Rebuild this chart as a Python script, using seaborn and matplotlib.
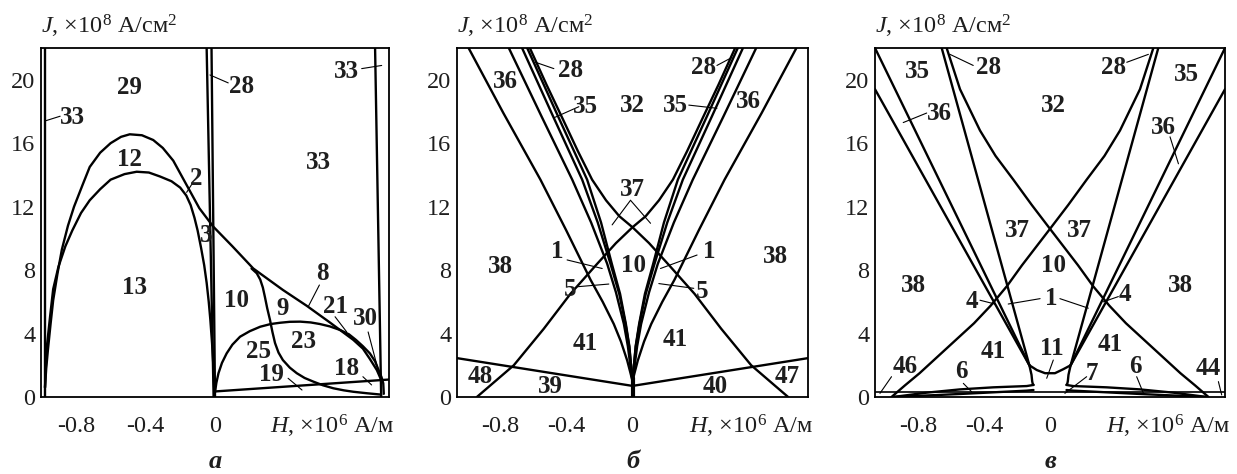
import matplotlib
matplotlib.use("Agg")
import matplotlib.pyplot as plt
import seaborn as sns

sns.set_theme(style="white")
plt.rcParams["font.family"] = ["Liberation Serif", "DejaVu Serif"]
plt.rcParams["mathtext.fontset"] = "custom"
plt.rcParams["mathtext.rm"] = "Liberation Serif"
plt.rcParams["mathtext.it"] = "Liberation Serif:italic"
plt.rcParams["mathtext.bf"] = "Liberation Serif:bold"

# ---------------- panel а : boundaries (H in 1e6 A/m, J in 1e8 A/cm^2) -------------
A33_LEFT = ([-0.977, -0.977], [22.0, 0.0])
A28_1 = ([-0.048, -0.008], [22.0, 0.0])
A28_2 = ([-0.020, 0.000], [22.0, 0.0])
A33_RIGHT = ([0.920, 0.955], [22.0, 0.0])
A_DOME_OUTER = ([-0.977, -0.97, -0.96, -0.945, -0.93, -0.905, -0.88, -0.845, -0.81, -0.76, -0.72,
                 -0.66, -0.60, -0.54, -0.49, -0.42, -0.355, -0.30, -0.24, -0.20,
                 -0.09, -0.01, 0.10, 0.22, 0.39, 0.527, 0.66, 0.795, 0.85, 0.89, 0.93, 0.958],
                [0.6, 1.8, 3.0, 4.6, 6.1, 7.8, 9.3, 10.8, 12.0, 13.4, 14.5,
                 15.4, 16.0, 16.4, 16.56, 16.5, 16.2, 15.7, 14.9, 14.1,
                 11.9, 10.74, 9.5, 8.1, 6.75, 5.75, 4.7, 3.6, 3.05, 2.4, 1.7, 1.0])
A_DOME_INNER = ([-0.977, -0.968, -0.948, -0.93, -0.90, -0.86, -0.82, -0.77, -0.72, -0.66, -0.60,
                 -0.52, -0.45, -0.38, -0.316, -0.25, -0.20, -0.165, -0.14,
                 -0.118, -0.10, -0.08, -0.062, -0.048, -0.036, -0.027, -0.017, -0.01, -0.004],
                [0.6, 3.0, 5.06, 6.8, 8.2, 9.5, 10.5, 11.6, 12.4, 13.1, 13.7,
                 14.05, 14.2, 14.15, 13.9, 13.6, 13.2, 12.7, 12.1,
                 11.3, 10.5, 9.4, 8.3, 7.2, 6.0, 4.9, 3.4, 2.1, 0.4])
A_DOME_LOW = ([0.0, 0.008, 0.02, 0.04, 0.067, 0.10, 0.144, 0.20, 0.26, 0.32, 0.374, 0.43, 0.49,
               0.55, 0.603, 0.66, 0.72, 0.77, 0.81, 0.85, 0.89, 0.92, 0.94, 0.957, 0.967, 0.97],
              [0.3, 0.9, 1.5, 2.15, 2.75, 3.3, 3.8, 4.15, 4.43, 4.6, 4.68, 4.74, 4.75,
               4.7, 4.6, 4.45, 4.22, 3.95, 3.6, 3.2, 2.75, 2.25, 1.7, 1.25, 0.86, 0.2])
A_S_CURVE = ([0.21, 0.24, 0.26, 0.275, 0.287, 0.30, 0.316, 0.33, 0.345, 0.365, 0.39, 0.43,
              0.47, 0.515, 0.565, 0.62, 0.68, 0.74, 0.795, 0.87, 0.955],
             [8.1, 7.8, 7.4, 6.9, 6.3, 5.6, 4.86, 4.1, 3.4, 2.8, 2.33, 1.85,
              1.5, 1.2, 0.97, 0.74, 0.55, 0.42, 0.33, 0.24, 0.15])
A_RAMP = ([0.0, 1.0], [0.35, 1.1])

A_LABELS = [("29", -0.49, 19.5), ("33", -0.82, 17.6), ("12", -0.49, 15.0), ("2", -0.105, 13.8),
            ("3", -0.05, 10.2), ("13", -0.46, 6.9), ("28", 0.153, 19.6), ("33", 0.594, 14.8),
            ("33", 0.757, 20.5), ("10", 0.125, 6.1), ("9", 0.39, 5.6), ("8", 0.62, 7.8),
            ("21", 0.69, 5.7), ("30", 0.862, 4.96), ("23", 0.51, 3.5), ("25", 0.25, 2.86),
            ("19", 0.326, 1.39), ("18", 0.757, 1.8)]
A_LEADERS = [((-0.977, 17.4), (-0.89, 17.7)), ((-0.029, 20.3), (0.076, 19.8)),
             ((0.843, 20.7), (0.958, 20.9)), ((-0.163, 12.9), (-0.134, 13.4)),
             ((0.60, 7.06), (0.536, 5.7)), ((0.69, 5.06), (0.757, 4.1)),
             ((0.88, 4.1), (0.948, 1.28)), ((0.42, 1.18), (0.5, 0.44)),
             ((0.85, 1.28), (0.9, 0.76))]

# ---------------- panel б : left half, the right half is its mirror image ----------
B36 = ([-0.99, -0.78, -0.556, -0.40, -0.254, -0.18, -0.113, -0.07, -0.032, -0.012, 0.0],
       [22.0, 17.9, 13.7, 10.5, 7.4, 6.0, 4.6, 3.5, 2.3, 1.5, 1.0])
B35 = ([-0.747, -0.55, -0.364, -0.25, -0.153, -0.10, -0.052, -0.028, -0.012, 0.0],
       [22.0, 17.7, 13.7, 11.0, 8.4, 6.6, 4.6, 3.2, 1.9, 1.0])
B28A = ([-0.667, -0.48, -0.304, -0.21, -0.133, -0.08, -0.042, -0.02, -0.008, 0.0],
        [22.0, 17.7, 13.7, 11.0, 8.4, 6.5, 4.6, 3.2, 1.9, 1.0])
B28B = ([-0.636, -0.45, -0.274, -0.19, -0.125, -0.075, -0.040, -0.019, -0.008, 0.0],
        [22.0, 17.7, 13.7, 11.0, 8.4, 6.5, 4.6, 3.2, 1.9, 1.0])
BX = ([-0.62, -0.52, -0.42, -0.33, -0.244, -0.16, -0.08, 0.0, 0.10, 0.213, 0.375, 0.536, 0.717, 0.94],
      [22.0, 19.7, 17.5, 15.5, 13.7, 12.4, 11.4, 10.7, 9.7, 8.4, 6.5, 4.3, 2.0, 0.0])
B_V = ([-1.06, 0.0], [2.45, 0.7])
B_STEM = ([0.0, 0.0], [0.0, 1.2])

B_LABELS = [("36", -0.767, 19.9), ("28", -0.375, 20.6), ("35", -0.284, 18.3), ("32", 0.0, 18.4),
            ("28", 0.43, 20.8), ("35", 0.26, 18.4), ("36", 0.70, 18.6), ("37", 0.0, 13.05),
            ("1", -0.455, 9.16), ("10", 0.008, 8.3), ("1", 0.461, 9.16), ("38", -0.80, 8.2),
            ("38", 0.864, 8.85), ("5", -0.375, 6.75), ("5", 0.42, 6.64), ("41", -0.284, 3.39),
            ("41", 0.26, 3.6), ("48", -0.918, 1.28), ("39", -0.495, 0.65), ("40", 0.50, 0.65),
            ("47", 0.935, 1.28)]
B_LEADERS = [((-0.586, 21.1), (-0.475, 20.7)), ((-0.475, 17.6), (-0.324, 18.3)),
             ((0.51, 20.9), (0.60, 21.4)), ((0.34, 18.4), (0.51, 18.2)),
             ((-0.395, 8.64), (-0.183, 8.1)), ((-0.334, 6.95), (-0.143, 7.12)),
             ((0.39, 8.95), (0.169, 8.1)), ((0.37, 6.85), (0.159, 7.15)),
             ((-0.123, 10.85), (-0.012, 12.4)), ((-0.012, 12.4), (0.109, 10.95))]

# ---------------- panel в : left half, the right half is its mirror image ----------
C_OUT_A = ([-1.06, -0.125], [22.0, 2.0])
C_OUT_B = ([-1.06, -0.125], [19.4, 2.0])
C_STEEP = ([-0.656, -0.125], [22.0, 2.0])
C_X = ([-0.626, -0.545, -0.424, -0.33, -0.222, -0.11, 0.0, 0.085, 0.17, 0.26, 0.36, 0.46, 0.57, 0.68, 0.79, 0.88, 0.96],
       [22.0, 19.4, 16.8, 15.2, 13.7, 12.1, 10.6, 9.45, 8.3, 7.0, 5.75, 4.65, 3.6, 2.55, 1.5, 0.72, 0.0])
C_NECK = ([-0.125, -0.112, -0.108, -0.105, -0.1], [2.0, 1.4, 1.0, 0.85, 0.76])
C_LENS_UP = ([-0.1, -0.141, -0.343, -0.545, -0.75, -0.95], [0.76, 0.69, 0.61, 0.48, 0.27, 0.0])
C_LENS_LOW = ([-0.1, -0.141, -0.545, -0.95], [0.44, 0.4, 0.19, 0.0])
C_ELEVEN_TOP = ([-0.125, -0.08, -0.03, 0.03, 0.08, 0.125], [2.0, 1.7, 1.5, 1.5, 1.75, 2.0])
C_FLOOR = ([-1.06, 1.06], [0.3, 0.3])

C_LABELS = [("35", -0.8, 20.5), ("28", -0.374, 20.8), ("32", 0.02, 18.4), ("28", 0.384, 20.8),
            ("35", 0.828, 20.3), ("36", -0.667, 17.9), ("36", 0.687, 17.0), ("37", -0.2, 10.5),
            ("37", 0.18, 10.5), ("10", 0.02, 8.3), ("38", -0.828, 7.06), ("38", 0.788, 7.06),
            ("4", -0.475, 6.0), ("1", 0.01, 6.2), ("4", 0.455, 6.43), ("41", -0.343, 2.86),
            ("41", 0.364, 3.28), ("11", 0.01, 3.07), ("7", 0.253, 1.49), ("6", -0.535, 1.6),
            ("6", 0.515, 1.91), ("46", -0.879, 1.91), ("44", 0.96, 1.8)]
C_LEADERS = [((-0.606, 21.6), (-0.465, 20.9)), ((0.465, 21.1), (0.596, 21.6)),
             ((-0.889, 17.3), (-0.747, 17.9)), ((0.727, 16.4), (0.778, 14.7)),
             ((-0.424, 6.1), (-0.333, 5.86)), ((-0.06, 6.2), (-0.253, 5.86)),
             ((0.06, 6.2), (0.232, 5.6)), ((0.414, 6.33), (0.323, 6.0)),
             ((0.02, 2.33), (-0.02, 1.18)), ((0.222, 1.28), (0.09, 0.23)),
             ((-0.525, 0.86), (-0.475, 0.33)), ((0.525, 1.28), (0.566, 0.23)),
             ((-0.96, 1.28), (-1.03, 0.23)), ((1.02, 0.97), (1.04, 0.13))]

X_TICK_LABELS = {-0.8: "-0.8", -0.4: "-0.4", 0.0: "0"}
Y_TICK_LABELS = {0: "0", 4: "4", 8: "8", 12: "12", 16: "16", 20: "20"}
PANEL_NAMES = ["а", "б", "в"]

LINE_W = 1.7
THIN_W = 0.8
INK = "#1e1e1e"


def mirror(curve):
    h, j = curve
    return ([-v for v in h], list(j))


def draw(ax, curve, lw=LINE_W):
    h, j = curve
    sns.lineplot(x=h, y=j, sort=False, estimator=None, color="black", lw=lw,
                 ax=ax, legend=False)


def annotate(ax, labels, leaders):
    for text, h, j in labels:
        ax.text(h, j, text, ha="center", va="center", fontsize=18,
                fontweight="bold", color=INK, zorder=5)
    for (h1, j1), (h2, j2) in leaders:
        draw(ax, ([h1, h2], [j1, j2]), lw=THIN_W)


def frame(ax, xlim, name):
    ax.set_xlim(*xlim)
    ax.set_ylim(0, 22)
    xt = [round(-1.0 + 0.2 * k, 1) for k in range(11)]
    xt = [t for t in xt if xlim[0] + 1e-9 < t < xlim[1] - 1e-9]
    ax.set_xticks(xt)
    ax.set_xticklabels([X_TICK_LABELS.get(t, "") for t in xt])
    yt = list(range(0, 21, 2))
    ax.set_yticks(yt)
    ax.set_yticklabels([Y_TICK_LABELS.get(t, "") for t in yt])
    ax.tick_params(axis="both", direction="in", length=7, width=1.0, color="black",
                   labelsize=17.5, labelcolor=INK)
    ax.tick_params(axis="x", pad=14)
    ax.tick_params(axis="y", pad=4)
    for s in ax.spines.values():
        s.set_color("black")
        s.set_linewidth(1.3)
    ax.set_xlabel("")
    ax.set_ylabel("")
    ax.text(0.0, 1.022, r"$\it{J}$, ×10$^{8}$ А/см$^{2}$", transform=ax.transAxes,
            ha="left", va="bottom", fontsize=17.5, color=INK)
    ax.text(1.015, -0.045, r"$\it{H}$, ×10$^{6}$ А/м", transform=ax.transAxes,
            ha="right", va="top", fontsize=17.5, color=INK)
    x_fig = ax.transData.transform((0.0, 0.0))[0] / ax.figure.bbox.width
    ax.figure.text(x_fig, 6 / 474, name, ha="center", va="baseline",
                   fontsize=19, fontweight="bold", fontstyle="italic", color=INK)


fig = plt.figure(figsize=(12.37, 4.74), dpi=100)
ax_a = fig.add_axes([41 / 1237, 77 / 474, 348 / 1237, 349 / 474])
ax_b = fig.add_axes([457 / 1237, 77 / 474, 351 / 1237, 349 / 474])
ax_c = fig.add_axes([875 / 1237, 77 / 474, 350 / 1237, 349 / 474])

# panel а
for c in (A33_LEFT, A28_1, A28_2, A33_RIGHT, A_DOME_OUTER, A_DOME_INNER,
          A_DOME_LOW, A_S_CURVE, A_RAMP):
    draw(ax_a, c)
annotate(ax_a, A_LABELS, A_LEADERS)
frame(ax_a, (-1.0, 1.0), PANEL_NAMES[0])

# panel б
for c in (B36, B35, B28A, B28B, BX, B_V):
    draw(ax_b, c)
    draw(ax_b, mirror(c))
draw(ax_b, B_STEM, lw=3.0)
annotate(ax_b, B_LABELS, B_LEADERS)
frame(ax_b, (-1.06, 1.06), PANEL_NAMES[1])

# panel в
for c in (C_OUT_A, C_OUT_B, C_STEEP, C_X, C_NECK, C_LENS_UP, C_LENS_LOW):
    draw(ax_c, c)
    draw(ax_c, mirror(c))
draw(ax_c, C_ELEVEN_TOP)
draw(ax_c, C_FLOOR, lw=1.2)
annotate(ax_c, C_LABELS, C_LEADERS)
frame(ax_c, (-1.06, 1.06), PANEL_NAMES[2])

fig.savefig("out.png", dpi=100, facecolor="white")
